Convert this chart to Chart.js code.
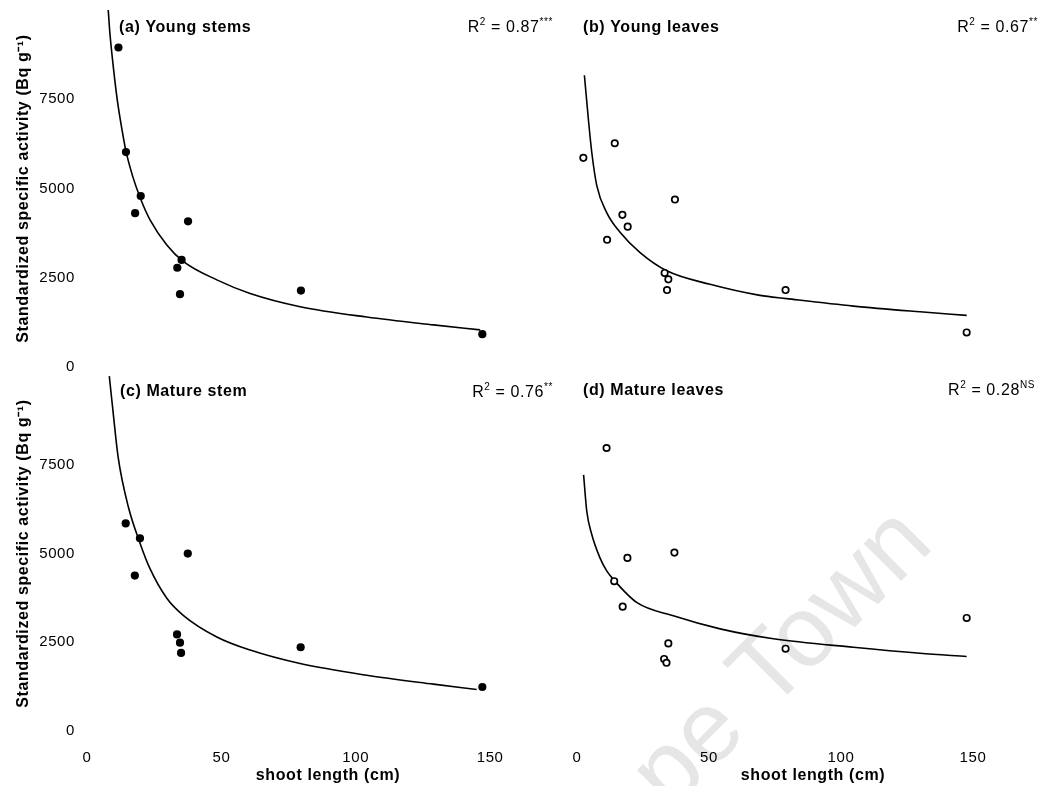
<!DOCTYPE html>
<html>
<head>
<meta charset="utf-8">
<title>Specific activity vs shoot length</title>
<script src="https://cdn.jsdelivr.net/npm/chart.js@4.4.1/dist/chart.umd.min.js"></script>
<style>
  html, body { margin: 0; padding: 0; background: #fff; }
  #fig { position: relative; width: 1041px; height: 786px; overflow: hidden; background: #fff; }
  #fig canvas { position: absolute; }
</style>
</head>
<body>
<div id="fig">
  <canvas id="panelA" width="560" height="372" style="left:0px;top:0px"></canvas>
  <canvas id="panelC" width="560" height="414" style="left:0px;top:372px"></canvas>
  <canvas id="panelB" width="521" height="372" style="left:520px;top:0px"></canvas>
  <canvas id="panelD" width="521" height="414" style="left:520px;top:372px"></canvas>
</div>
<script>
// ---- data: shoot length (cm) and standardized specific activity (Bq g-1) ----
const shootA    = [11.7, 14.5, 17.9, 20.0, 37.6, 33.6, 35.2, 34.6, 79.6, 147.1];
const activityA = [8950, 6020, 4310, 4790, 4080, 2780, 3000, 2040, 2140, 920];
const fitShootA = [7.9, 8.5, 9.8, 11.3, 12.9, 14.4, 17.0, 20.0, 23.4, 29.7, 35.8, 48.3, 60.7, 79.3, 104.1, 128.9, 146.3];
const fitActA   = [10000, 9370, 8400, 7460, 6700, 6080, 5340, 4700, 4130, 3420, 2960, 2440, 2060, 1690, 1400, 1180, 1040];

const shootB    = [2.4, 14.3, 37.1, 17.2, 19.2, 11.4, 33.2, 34.6, 34.1, 79.0, 147.6];
const activityB = [5850, 6260, 4680, 4250, 3920, 3550, 2620, 2440, 2140, 2140, 950];
const fitShootB = [2.8, 4.3, 5.6, 7.5, 11.2, 16.3, 23.9, 34.0, 50.4, 69.3, 79.4, 104.7, 129.9, 147.6];
const fitActB   = [8170, 6940, 6000, 5070, 4320, 3760, 3190, 2680, 2300, 1990, 1900, 1690, 1530, 1430];

const shootC    = [14.4, 19.7, 17.8, 37.5, 33.5, 34.6, 35.0, 79.5, 147.1];
const activityC = [5850, 5430, 4380, 5000, 2720, 2490, 2200, 2360, 1240];
const fitShootC = [8.3, 9.8, 11.6, 15.4, 19.7, 23.4, 29.7, 35.8, 48.3, 60.7, 79.3, 104.1, 128.9, 145.0];
const fitActC   = [10000, 8920, 7710, 6310, 5300, 4580, 3740, 3260, 2650, 2280, 1900, 1570, 1320, 1170];

const shootD    = [11.2, 19.1, 36.9, 14.1, 17.3, 34.6, 33.0, 33.9, 79.0, 147.6];
const activityD = [8010, 4900, 5050, 4240, 3520, 2480, 2040, 1930, 2330, 3200];
const fitShootD = [2.5, 3.7, 5.6, 8.7, 11.2, 13.8, 22.6, 36.5, 54.2, 74.4, 104.7, 129.9, 147.6];
const fitActD   = [7250, 6220, 5560, 4900, 4540, 4290, 3640, 3260, 2890, 2610, 2370, 2200, 2110];

const xTicks = [0, 50, 100, 150];
const yTicks = [0, 2500, 5000, 7500];

const panelTitles = ['(a) Young stems', '(b) Young leaves', '(c) Mature stem', '(d) Mature leaves'];
const r2Values    = ['0.87', '0.67', '0.76', '0.28'];
const r2Marks     = ['***', '**', '**', 'NS'];
const yTitle = 'Standardized specific activity (Bq g\u207B\u00B9)';
const xTitle = 'shoot length (cm)';

// ---- drawing helpers ----
const FONT = "'Liberation Sans', Arial, Helvetica, sans-serif";
Chart.defaults.font.family = FONT;
Chart.defaults.color = '#000';

function pairs(xs, ys) { return xs.map((x, i) => ({ x: x, y: ys[i] })); }

// text runs with superscripts, right-aligned at x
function drawRuns(ctx, xRight, baseline, runs) {
  let total = 0;
  runs.forEach(r => { ctx.font = r.font; r.w = ctx.measureText(r.t).width; total += r.w; });
  let x = xRight - total;
  ctx.textAlign = 'left';
  runs.forEach(r => { ctx.font = r.font; ctx.fillText(r.t, x, baseline - (r.up || 0)); x += r.w; });
}

const panelText = {
  id: 'panelText',
  beforeDraw(chart, args, o) {
    const ctx = chart.ctx;
    ctx.letterSpacing = '0.6px';
    if (o.watermark) {
      ctx.save();
      ctx.translate(936 - o.ox, 546 - o.oy);
      ctx.rotate(-Math.PI / 4);
      ctx.font = '100px ' + FONT;
      ctx.fillStyle = '#e6e6e6';
      ctx.textAlign = 'right';
      ctx.textBaseline = 'alphabetic';
      ctx.fillText('Cape Town', 0, 0);
      ctx.restore();
    }
  },
  afterDraw(chart, args, o) {
    const ctx = chart.ctx;
    ctx.save();
    ctx.letterSpacing = '0.6px';
    ctx.fillStyle = '#000';
    ctx.textBaseline = 'alphabetic';
    ctx.textAlign = 'left';
    ctx.font = 'bold 16px ' + FONT;
    ctx.fillText(panelTitles[o.idx], o.titleX - o.ox, o.base - o.oy);
    drawRuns(ctx, o.r2Right - o.ox, o.r2Base - o.oy, [
      { t: 'R', font: '16px ' + FONT },
      { t: '2', font: '10px ' + FONT, up: 7 },
      { t: ' = ' + r2Values[o.idx], font: '16px ' + FONT },
      { t: r2Marks[o.idx], font: '10px ' + FONT, up: 7 }
    ]);
    if (o.xTitleX) {
      ctx.font = 'bold 16px ' + FONT;
      ctx.textAlign = 'center';
      ctx.textBaseline = 'middle';
      ctx.fillText(xTitle, o.xTitleX - o.ox, 776 - o.oy);
    }
    ctx.restore();
  }
};

function makePanel(id, cfg) {
  const xScale = {
    type: 'linear', min: 0, max: 160, display: cfg.bottom,
    grid: { display: false }, border: { display: false },
    ticks: { padding: 10, font: { size: 15 }, callback: v => String(v) },
    afterBuildTicks: s => { s.ticks = xTicks.map(v => ({ value: v })); },
    afterFit: s => {
      if (cfg.bottom) s.height = 55;
      s.paddingLeft = 0; s.paddingRight = 0;
    }
  };
  const yScale = {
    type: 'linear', min: 0, max: 10000, display: cfg.left,
    grid: { display: false }, border: { display: false },
    ticks: { padding: 4, font: { size: 15 }, callback: v => String(v) },
    afterBuildTicks: s => { s.ticks = yTicks.map(v => ({ value: v })); },
    afterFit: s => {
      if (cfg.left) s.width = 87;
      s.paddingTop = 0; s.paddingBottom = 0;
    },
    title: {
      display: true, text: yTitle,
      font: { size: 16, weight: 'bold' },
      padding: { top: 14, bottom: 0 }
    }
  };
  return new Chart(document.getElementById(id), {
    type: 'scatter',
    data: {
      datasets: [
        {
          data: pairs(cfg.fitX, cfg.fitY), showLine: true,
          borderColor: '#000', borderWidth: 1.6, pointRadius: 0,
          cubicInterpolationMode: 'monotone', fill: false, order: 2
        },
        {
          data: pairs(cfg.x, cfg.y), showLine: false,
          pointRadius: cfg.open ? 3.2 : 4.1,
          pointBorderWidth: cfg.open ? 1.7 : 0,
          pointBorderColor: '#000',
          pointBackgroundColor: cfg.open ? '#fff' : '#000',
          order: 1
        }
      ]
    },
    options: {
      responsive: false, animation: false, devicePixelRatio: 1,
      layout: { padding: cfg.pad },
      scales: { x: xScale, y: yScale },
      plugins: {
        legend: { display: false }, tooltip: { enabled: false },
        panelText: cfg.text
      },
      events: []
    },
    plugins: [panelText]
  });
}

makePanel('panelA', {
  left: true, bottom: false, open: false,
  x: shootA, y: activityA, fitX: fitShootA, fitY: fitActA,
  pad: { left: 0, top: 10, right: 43, bottom: 5 },
  text: { idx: 0, ox: 0, oy: 0, titleX: 119, base: 32, r2Right: 553, r2Base: 32 }
});
makePanel('panelB', {
  left: false, bottom: false, open: true,
  x: shootB, y: activityB, fitX: fitShootB, fitY: fitActB,
  pad: { left: 57, top: 10, right: 41.6, bottom: 5 },
  text: { idx: 1, ox: 520, oy: 0, titleX: 583, base: 32, r2Right: 1038, r2Base: 32 }
});
makePanel('panelC', {
  left: true, bottom: true, open: false,
  x: shootC, y: activityC, fitX: fitShootC, fitY: fitActC,
  pad: { left: 0, top: 3, right: 43, bottom: 0 },
  text: { idx: 2, ox: 0, oy: 372, titleX: 120, base: 396, r2Right: 553, r2Base: 397, xTitleX: 328 }
});
makePanel('panelD', {
  left: false, bottom: true, open: true,
  x: shootD, y: activityD, fitX: fitShootD, fitY: fitActD,
  pad: { left: 57, top: 3, right: 41.6, bottom: 0 },
  text: { idx: 3, ox: 520, oy: 372, titleX: 583, base: 395, r2Right: 1035, r2Base: 395, xTitleX: 813, watermark: true }
});
</script>
</body>
</html>
